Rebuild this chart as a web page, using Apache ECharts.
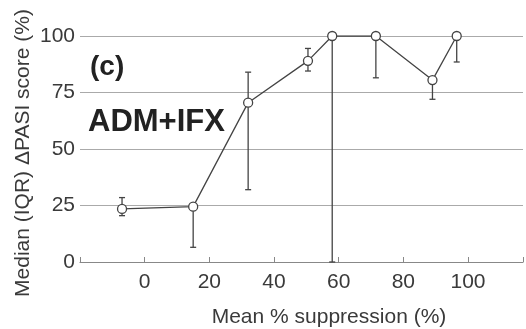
<!DOCTYPE html>
<html><head><meta charset="utf-8">
<script src="https://cdn.jsdelivr.net/npm/echarts@6/dist/echarts.min.js"></script>
<style>html,body{margin:0;padding:0;background:#fff}#c{width:526px;height:329px}</style>
</head><body><div id="c"></div>
<script>
const suppression = [-7, 15, 32, 50.5, 58, 71.5, 89, 96.5];
const medianScore = [23.5, 24.5, 70.5, 89, 100, 100, 80.5, 100];
const q1Score = [20.5, 6.5, 32, 84.5, 0, 81.5, 72, 88.5];
const q3Score = [28.5, 24.5, 84, 94.5, 100, 100, 80.5, 100];
const xTicks = [0, 20, 40, 60, 80, 100];
const yTicks = [0, 25, 50, 75, 100];

const chart = echarts.init(document.getElementById('c'));
const txt = '#3a3a3a';
const tickFont = '"Liberation Sans Narrow", "Liberation Sans", Arial, sans-serif';
const errData = suppression.map((x, i) => [x, q1Score[i], q3Score[i]]);
chart.setOption({
  animation: false,
  grid: {left: 80, right: 0, top: 36, bottom: 67},
  graphic: [
    {type: 'text', x: 90, y: 67, style: {text: '(c)', font: 'bold 28px "Liberation Sans"', fill: '#222', textVerticalAlign: 'middle'}},
    {type: 'text', x: 88, y: 122, style: {text: 'ADM+IFX', font: 'bold 31px "Liberation Sans"', fill: '#222', textVerticalAlign: 'middle'}},
    {type: 'text', x: 329, y: 317, style: {text: 'Mean % suppression (%)', font: '21px "Liberation Sans"', fill: txt, textAlign: 'center', textVerticalAlign: 'middle'}},
    {type: 'text', x: 23, y: 153, rotation: Math.PI / 2, style: {text: 'Median (IQR) \u0394PASI score (%)', font: '21px "Liberation Sans"', fill: txt, textAlign: 'center', textVerticalAlign: 'middle'}}
  ],
  xAxis: {
    type: 'value', min: -20, max: 117, interval: 20,
    axisLine: {lineStyle: {color: '#888', width: 1.2}},
    axisTick: {inside: true, length: 5, lineStyle: {color: '#888'}},
    axisLabel: {color: txt, fontSize: 21, fontFamily: tickFont, margin: 10,
      formatter: v => xTicks.includes(v) ? String(v) : ''},
    splitLine: {show: false}
  },
  yAxis: {
    type: 'value', min: 0, max: 100, interval: 25,
    axisLine: {show: false}, axisTick: {show: false},
    axisLabel: {color: txt, fontSize: 21, fontFamily: tickFont, margin: 5,
      formatter: v => yTicks.includes(v) ? String(v) : ''},
    splitLine: {lineStyle: {color: '#aaa', width: 1.2}}
  },
  series: [
    {
      type: 'custom',
      renderItem: function (params, api) {
        const x = api.value(0);
        const lo = api.coord([x, api.value(1)]);
        const hi = api.coord([x, api.value(2)]);
        const w = 3;
        const st = {stroke: '#444', lineWidth: 1.3};
        return {type: 'group', children: [
          {type: 'line', shape: {x1: lo[0], y1: lo[1], x2: hi[0], y2: hi[1]}, style: st},
          {type: 'line', shape: {x1: lo[0]-w, y1: lo[1], x2: lo[0]+w, y2: lo[1]}, style: st},
          {type: 'line', shape: {x1: hi[0]-w, y1: hi[1], x2: hi[0]+w, y2: hi[1]}, style: st}
        ]};
      },
      data: errData, z: 2
    },
    {
      type: 'line',
      data: suppression.map((x, i) => [x, medianScore[i]]),
      symbol: 'circle', symbolSize: 9,
      lineStyle: {color: '#444', width: 1.3},
      itemStyle: {color: '#fff', borderColor: '#444', borderWidth: 1.3},
      z: 3
    }
  ]
});
</script></body></html>
